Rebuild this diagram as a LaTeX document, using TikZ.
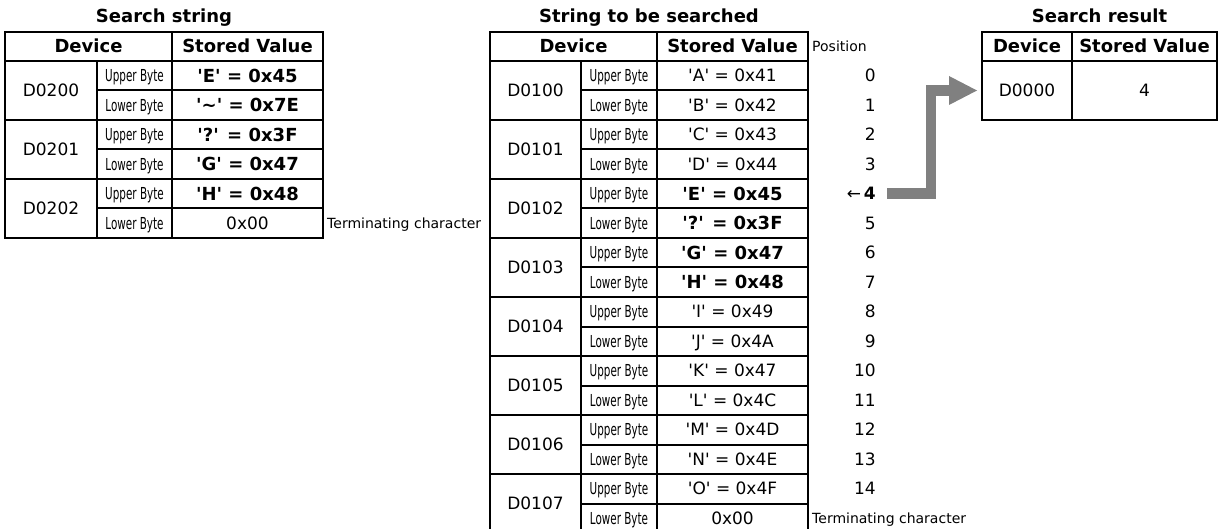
\documentclass[tikz,border=0pt]{standalone}
\usepackage{fontspec}
\setmainfont{DejaVu Sans}
\newfontfamily\narrowfont{DejaVu Sans}[FakeStretch=0.63]
\usetikzlibrary{arrows.meta}
\newcommand{\sq}{\textquotesingle}

\begin{document}
\begin{tikzpicture}[x=1pt, y=-1pt,
    cellbox/.style={draw, line width=2pt, inner sep=0pt, text depth=0pt},
    hd/.style={cellbox, minimum width=#1, minimum height=29pt, text height=13pt,
               font=\bfseries\fontsize{18}{20}\selectfont},
    dev/.style={cellbox, minimum width=#1, minimum height=59pt, text height=12.4pt,
                font=\fontsize{17}{20}\selectfont},
    byte/.style={cellbox, minimum width=#1, minimum height=29.5pt, text height=12pt,
                 font=\narrowfont\fontsize{16.5}{18}\selectfont},
    val/.style={cellbox, minimum width=151pt, minimum height=29.5pt, text height=12.4pt,
                font=\fontsize{17}{20}\selectfont},
    bval/.style={val, text height=13pt, font=\bfseries\fontsize{18}{20}\selectfont},
    posnum/.style={anchor=east, inner sep=0pt, text height=12.4pt, text depth=0pt,
                font=\fontsize{17}{20}\selectfont},
    note/.style={anchor=west, inner sep=0pt, text height=10.2pt, text depth=0pt,
                 font=\fontsize{14}{16}\selectfont},
    ttl/.style={anchor=base, inner sep=0pt, font=\bfseries\fontsize{18}{20}\selectfont},
    bigarrow/.style={draw=gray, line width=10.5pt,
                     -{Triangle[length=28pt, width=29pt, line width=0pt]}, shorten >=4pt}]

  \useasboundingbox (0,0) rectangle (1218,529);

  %% Search string (left table)
  \node[ttl] (t1) at (164,23) {Search string};
  \node[hd=167pt] (h1d) at (88.5,46.5) {Device};
  \node[hd=151pt] (h1v) at (247.5,46.5) {Stored Value};
  \node[dev=92pt] (a0) at (51, 90.5) {D0200};
  \node[dev=92pt] (a1) at (51,149.5) {D0201};
  \node[dev=92pt] (a2) at (51,208.5) {D0202};
  \node[byte=75pt] (ab0) at (134.5, 75.75) {Upper Byte}; \node[bval] (av0) at (247.5, 75.75) {\sq E\sq{} = 0x45};
  \node[byte=75pt] (ab1) at (134.5,105.25) {Lower Byte}; \node[bval] (av1) at (247.5,105.25) {\sq\textasciitilde\sq{} = 0x7E};
  \node[byte=75pt] (ab2) at (134.5,134.75) {Upper Byte}; \node[bval] (av2) at (247.5,134.75) {\sq?\sq{} = 0x3F};
  \node[byte=75pt] (ab3) at (134.5,164.25) {Lower Byte}; \node[bval] (av3) at (247.5,164.25) {\sq G\sq{} = 0x47};
  \node[byte=75pt] (ab4) at (134.5,193.75) {Upper Byte}; \node[bval] (av4) at (247.5,193.75) {\sq H\sq{} = 0x48};
  \node[byte=75pt] (ab5) at (134.5,223.25) {Lower Byte}; \node[val]  (av5) at (247.5,223.25) {0x00};
  \node[note] (aend) at (327,223.25) {Terminating character};

  %% String to be searched (middle table)
  \node[ttl] (t2) at (649,23) {String to be searched};
  \node[hd=167pt] (h2d) at (573.5,46.5) {Device};
  \node[hd=151pt] (h2v) at (732.5,46.5) {Stored Value};
  \node[note] (hpos) at (812,46) {Position};
  \node[dev=91pt] (m0) at (535.5, 90.5) {D0100};
  \node[dev=91pt] (m1) at (535.5,149.5) {D0101};
  \node[dev=91pt] (m2) at (535.5,208.5) {D0102};
  \node[dev=91pt] (m3) at (535.5,267.5) {D0103};
  \node[dev=91pt] (m4) at (535.5,326.5) {D0104};
  \node[dev=91pt] (m5) at (535.5,385.5) {D0105};
  \node[dev=91pt] (m6) at (535.5,444.5) {D0106};
  \node[dev=91pt] (m7) at (535.5,503.5) {D0107};
  \node[byte=76pt] (mb0)  at (619, 75.75) {Upper Byte}; \node[val]  (mv0)  at (732.5, 75.75) {\sq A\sq{} = 0x41}; \node[posnum] (p0)  at (876, 75.75) {0};
  \node[byte=76pt] (mb1)  at (619,105.25) {Lower Byte}; \node[val]  (mv1)  at (732.5,105.25) {\sq B\sq{} = 0x42}; \node[posnum] (p1)  at (876,105.25) {1};
  \node[byte=76pt] (mb2)  at (619,134.75) {Upper Byte}; \node[val]  (mv2)  at (732.5,134.75) {\sq C\sq{} = 0x43}; \node[posnum] (p2)  at (876,134.75) {2};
  \node[byte=76pt] (mb3)  at (619,164.25) {Lower Byte}; \node[val]  (mv3)  at (732.5,164.25) {\sq D\sq{} = 0x44}; \node[posnum] (p3)  at (876,164.25) {3};
  \node[byte=76pt] (mb4)  at (619,193.75) {Upper Byte}; \node[bval] (mv4)  at (732.5,193.75) {\sq E\sq{} = 0x45}; \node[posnum] (p4)  at (876,193.75) {←\,\textbf{4}};
  \node[byte=76pt] (mb5)  at (619,223.25) {Lower Byte}; \node[bval] (mv5)  at (732.5,223.25) {\sq?\sq{} = 0x3F}; \node[posnum] (p5)  at (876,223.25) {5};
  \node[byte=76pt] (mb6)  at (619,252.75) {Upper Byte}; \node[bval] (mv6)  at (732.5,252.75) {\sq G\sq{} = 0x47}; \node[posnum] (p6)  at (876,252.75) {6};
  \node[byte=76pt] (mb7)  at (619,282.25) {Lower Byte}; \node[bval] (mv7)  at (732.5,282.25) {\sq H\sq{} = 0x48}; \node[posnum] (p7)  at (876,282.25) {7};
  \node[byte=76pt] (mb8)  at (619,311.75) {Upper Byte}; \node[val]  (mv8)  at (732.5,311.75) {\sq I\sq{} = 0x49}; \node[posnum] (p8)  at (876,311.75) {8};
  \node[byte=76pt] (mb9)  at (619,341.25) {Lower Byte}; \node[val]  (mv9)  at (732.5,341.25) {\sq J\sq{} = 0x4A}; \node[posnum] (p9)  at (876,341.25) {9};
  \node[byte=76pt] (mb10) at (619,370.75) {Upper Byte}; \node[val]  (mv10) at (732.5,370.75) {\sq K\sq{} = 0x47}; \node[posnum] (p10) at (876,370.75) {10};
  \node[byte=76pt] (mb11) at (619,400.25) {Lower Byte}; \node[val]  (mv11) at (732.5,400.25) {\sq L\sq{} = 0x4C}; \node[posnum] (p11) at (876,400.25) {11};
  \node[byte=76pt] (mb12) at (619,429.75) {Upper Byte}; \node[val]  (mv12) at (732.5,429.75) {\sq M\sq{} = 0x4D}; \node[posnum] (p12) at (876,429.75) {12};
  \node[byte=76pt] (mb13) at (619,459.25) {Lower Byte}; \node[val]  (mv13) at (732.5,459.25) {\sq N\sq{} = 0x4E}; \node[posnum] (p13) at (876,459.25) {13};
  \node[byte=76pt] (mb14) at (619,488.75) {Upper Byte}; \node[val]  (mv14) at (732.5,488.75) {\sq O\sq{} = 0x4F}; \node[posnum] (p14) at (876,488.75) {14};
  \node[byte=76pt] (mb15) at (619,518.25) {Lower Byte}; \node[val]  (mv15) at (732.5,518.25) {0x00};
  \node[note] (mend) at (812,518.25) {Terminating character};

  %% Search result (right table)
  \node[ttl] (t3) at (1099.5,23) {Search result};
  \node[hd=90pt]  (h3d) at (1027,46.5) {Device};
  \node[hd=145pt] (h3v) at (1144.5,46.5) {Stored Value};
  \node[dev=90pt]  (r0) at (1027,90.5) {D0000};
  \node[dev=145pt] (r1) at (1144.5,90.5) {4};

  %% found position -> result
  \draw[bigarrow] ([xshift=11pt]p4.east) -| ([xshift=-50pt]r0.west) -- (r0.west);
\end{tikzpicture}
\end{document}
